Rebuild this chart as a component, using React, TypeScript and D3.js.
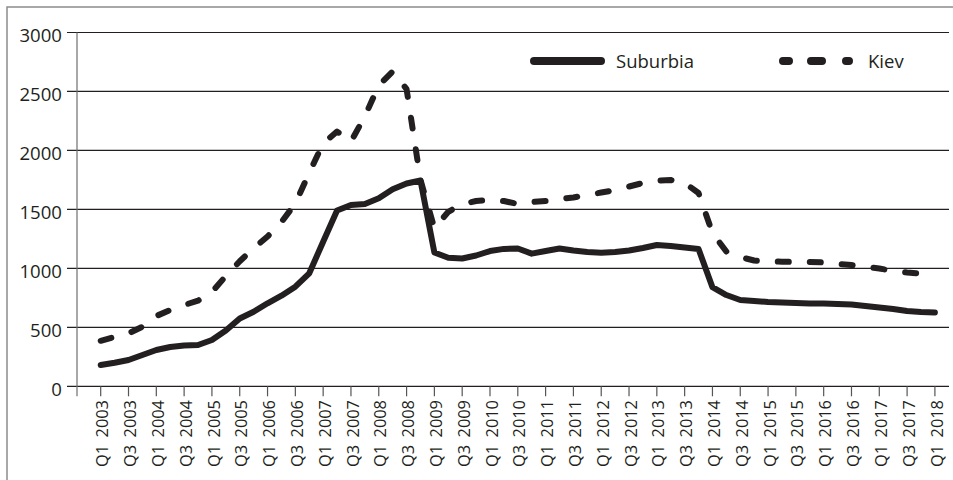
import React from "react";
import * as d3 from "d3";

const years = d3.range(2003, 2019);
const quarterLabels: string[] = [];
years.forEach((yr) => {
  ["Q1", "Q2", "Q3", "Q4"].forEach((q) => {
    if (quarterLabels.length < 61) quarterLabels.push(`${q} ${yr}`);
  });
});

const suburbia = [
  180, 200, 223, 265, 308, 333, 346, 350, 393, 473,
  575, 632, 704, 768, 845, 958, 1226, 1490, 1537, 1546,
  1594, 1670, 1720, 1745, 1135, 1090, 1084, 1109, 1147, 1165,
  1168, 1125, 1147, 1168, 1151, 1139, 1133, 1139, 1151, 1173,
  1198, 1190, 1177, 1164, 840, 774, 732, 723, 715, 711,
  706, 703, 702, 698, 694, 681, 668, 655, 638, 630, 626,
];

const kiev = [
  386, 418, 448, 505, 596, 647, 689, 726, 800, 935,
  1060, 1170, 1270, 1393, 1550, 1810, 2060, 2160, 2075, 2290,
  2550, 2670, 2520, 1750, 1340, 1480, 1545, 1571, 1580, 1571,
  1546, 1563, 1571, 1589, 1601, 1622, 1643, 1664, 1694, 1724,
  1745, 1749, 1724, 1639, 1300, 1143, 1096, 1067, 1058, 1057,
  1054, 1054, 1050, 1037, 1028, 1012, 999, 978, 965, 956, 952,
];

const yTicks = [0, 500, 1000, 1500, 2000, 2500, 3000];
const seriesNames = ["Suburbia", "Kiev"];

const W = 953;
const H = 480;
const FONT = "'Open Sans', 'Noto Sans', sans-serif";
const INK = "#231f20";

export default function App() {
  const x = d3.scaleLinear().domain([0, 60]).range([100.7, 934.9]);
  const y = d3.scaleLinear().domain([0, 3000]).range([386.3, 32.5]);
  const axisLeft = 77;
  const plotRight = 949;

  const line = d3
    .line<number>()
    .x((_, i) => x(i))
    .y((d) => y(d));

  const tickIdx = quarterLabels.map((_, i) => i).filter((i) => i % 2 === 0);

  return (
    <svg
      width={W}
      height={H}
      style={{ position: "absolute", left: 0, top: 0, background: "#fff" }}
      fontFamily={FONT}
    >
      <rect x={0} y={0} width={W} height={H} fill="#fff" />
      {/* outer frame */}
      <rect x={7} y={7} width={W + 20} height={H + 20} fill="none" stroke="#8c8c8c" strokeWidth={1.5} />

      {/* gridlines + y ticks */}
      {yTicks.map((t) => (
        <line
          key={"g" + t}
          x1={67}
          x2={plotRight}
          y1={y(t)}
          y2={y(t)}
          stroke={INK}
          strokeWidth={1.2}
        />
      ))}
      {/* y axis line */}
      <line x1={axisLeft} x2={axisLeft} y1={y(3000)} y2={y(0) + 10} stroke="#6e6e6e" strokeWidth={1.2} />
      {/* x ticks */}
      {tickIdx.map((i) => (
        <line
          key={"xt" + i}
          x1={x(i)}
          x2={x(i)}
          y1={y(0)}
          y2={y(0) + 10}
          stroke="#555"
          strokeWidth={1.2}
        />
      ))}
      {/* y labels */}
      {yTicks.map((t) => (
        <text
          key={"yl" + t}
          x={62}
          y={y(t) + 9.8}
          textAnchor="end"
          fontSize={18.6}
          fill={INK}
        >
          {t}
        </text>
      ))}
      {/* x labels */}
      {tickIdx.map((i) => (
        <text
          key={"xl" + i}
          transform={`translate(${x(i) + 7.6},400) rotate(-90)`}
          textAnchor="end"
          fontSize={16.4}
          fill={INK}
          style={{ wordSpacing: "3px" }}
        >
          {quarterLabels[i]}
        </text>
      ))}

      {/* series */}
      <path
        d={line(suburbia) || ""}
        fill="none"
        stroke={INK}
        strokeWidth={6}
        strokeLinejoin="round"
        strokeLinecap="round"
      />
      <path
        d={line(kiev) || ""}
        fill="none"
        stroke={INK}
        strokeWidth={6}
        strokeLinejoin="round"
        strokeLinecap="round"
        strokeDasharray="11,21"
      />

      {/* legend */}
      <line x1={534} x2={601} y1={61} y2={61} stroke={INK} strokeWidth={8} strokeLinecap="round" />
      <text x={616} y={68} fontSize={18.5} fill={INK}>
        {seriesNames[0]}
      </text>
      <line
        x1={783}
        x2={849}
        y1={61}
        y2={61}
        stroke={INK}
        strokeWidth={8}
        strokeLinecap="round"
        strokeDasharray="6,22,11,24,3"
      />
      <text x={868} y={68} fontSize={18.5} fill={INK}>
        {seriesNames[1]}
      </text>
    </svg>
  );
}
